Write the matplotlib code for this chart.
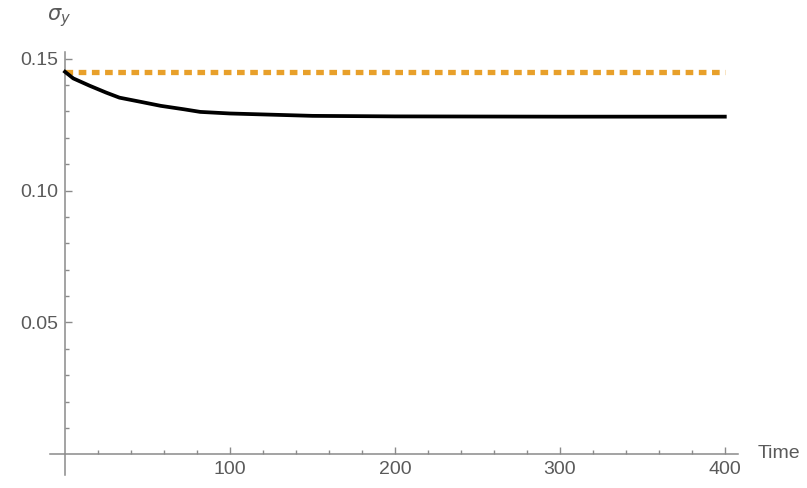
import numpy as np
import matplotlib.pyplot as plt
import matplotlib

matplotlib.rc("font", family="Liberation Sans", size=11)
matplotlib.rcParams["lines.scale_dashes"] = False

# readings
time = [0, 5, 15, 25, 33, 46, 58, 72, 82, 100, 150, 200, 300, 400]
sigma_y = [0.145, 0.1425, 0.1397, 0.1371, 0.1352, 0.1336, 0.1321,
           0.1308, 0.1298, 0.1292, 0.1283, 0.1281, 0.128, 0.128]
sigma_ref = 0.1451
x_ticks = [100, 200, 300, 400]
y_ticks = [0.05, 0.10, 0.15]
y_labels = ["0.05", "0.10", "0.15"]

axis_grey = "#8a8a8a"
text_grey = "#5a5a5a"
orange = "#E8A02A"

W, H = 807, 488
fig = plt.figure(figsize=(W / 100, H / 100), dpi=100)
ax = fig.add_axes([50 / W, 13 / H, (738 - 50) / W, (475 - 52) / H])

ax.hlines(sigma_ref, 0, 400, colors=orange, linewidth=3.8,
          linestyles=(0, (5.5, 4.0)), zorder=2)
ax.plot(time, sigma_y, color="black", linewidth=2.7, zorder=3)

ax.set_xlim(-9.1, 408)
ax.set_ylim(-0.0078, 0.1525)

for side in ("top", "right"):
    ax.spines[side].set_visible(False)
ax.spines["left"].set_position(("data", 0))
ax.spines["bottom"].set_position(("data", 0))
for side in ("left", "bottom"):
    ax.spines[side].set_color(axis_grey)
    ax.spines[side].set_linewidth(1.1)

ax.set_xticks(x_ticks)
ax.set_xticks(np.arange(20, 401, 20), minor=True)
ax.set_yticks(y_ticks)
ax.set_yticklabels(y_labels)
ax.set_yticks(np.arange(0.01, 0.151, 0.01), minor=True)

ax.tick_params(which="both", direction="in", color=axis_grey, width=1.0,
               labelcolor=text_grey, labelsize=14)
ax.tick_params(which="major", length=5, pad=5)
ax.tick_params(which="minor", length=3.2)

fig.text(59 / W, 1 - 18 / H, r"$\sigma_y$", color=text_grey, fontsize=15,
         ha="center", va="center")
fig.text(779 / W, 1 - 453 / H, "Time", color=text_grey, fontsize=14,
         ha="center", va="center")

fig.savefig("out.png", dpi=100)
